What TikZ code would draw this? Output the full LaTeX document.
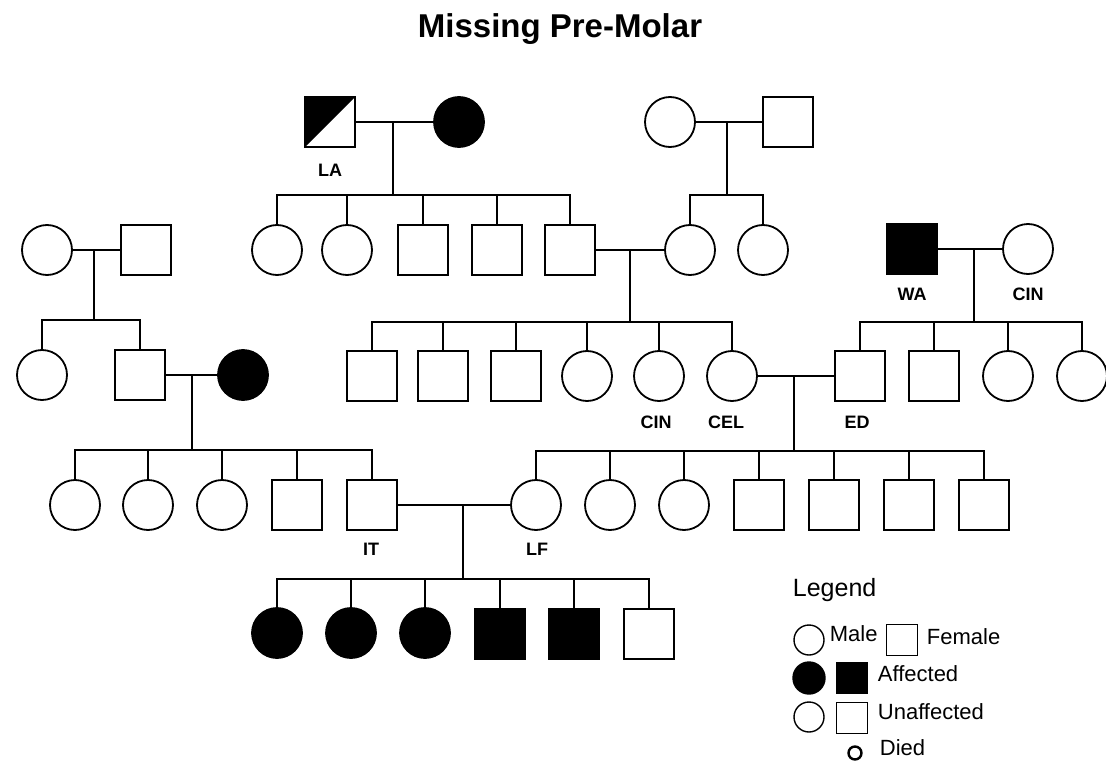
\documentclass[tikz,border=0pt]{standalone}
\usepackage{fontspec}
\setmainfont{Liberation Sans}
\begin{document}
\begin{tikzpicture}[x=1pt,y=-1pt,line width=1.8pt,
  sq/.style={draw,rectangle,minimum size=50pt,inner sep=0pt,fill=white},
  ci/.style={draw,circle,minimum size=50pt,inner sep=0pt,fill=white},
  aff/.style={fill=black},
  lab/.style={font=\bfseries\fontsize{18}{18}\selectfont,inner sep=0pt},
  leg/.style={font=\fontsize{22}{22}\selectfont,inner sep=0pt,anchor=west}]
\useasboundingbox (0,0) rectangle (1106,765);
\node[font=\bfseries\fontsize{33}{33}\selectfont,anchor=base,inner sep=0pt] (title) at (560,38) {Missing Pre-Molar};

% Generation I
\node[sq] (la) at (330,122) {};
\fill (la.north west) -- (la.north east) -- (la.south west) -- cycle;
\node[sq,fill=none] at (330,122) {};
\node[ci,aff] (lw) at (459,122) {};
\node[ci] (rw) at (670,122) {};
\node[sq] (rh) at (788,122) {};
\node[lab] (tla) at (330,170) {LA};

% Generation II
\node[ci] (g2a) at (47,250) {};
\node[sq] (g2b) at (146,250) {};
\node[ci] (c1) at (277,250) {};
\node[ci] (c2) at (347,250) {};
\node[sq] (c3) at (423,250) {};
\node[sq] (c4) at (497,250) {};
\node[sq] (c5) at (570,250) {};
\node[ci] (d1) at (690,250) {};
\node[ci] (d2) at (763,250) {};
\node[sq,aff] (wa) at (912,249) {};
\node[ci] (cin1) at (1028,249) {};
\node[lab] (twa) at (912,294) {WA};
\node[lab] (tcin1) at (1028,294) {CIN};

% Generation III
\node[ci] (e1) at (42,375) {};
\node[sq] (e2) at (140,375) {};
\node[ci,aff] (e3) at (243,375) {};
\node[sq] (f1) at (372,376) {};
\node[sq] (f2) at (443,376) {};
\node[sq] (f3) at (516,376) {};
\node[ci] (f4) at (587,376) {};
\node[ci] (f5) at (659,376) {};
\node[ci] (f6) at (732,376) {};
\node[sq] (h1) at (860,376) {};
\node[sq] (h2) at (934,376) {};
\node[ci] (h3) at (1008,376) {};
\node[ci] (h4) at (1082,376) {};
\node[lab] (tcin2) at (656,422) {CIN};
\node[lab] (tcel) at (726,422) {CEL};
\node[lab] (ted) at (857,422) {ED};

% Generation IV
\node[ci] (i1) at (75,505) {};
\node[ci] (i2) at (148,505) {};
\node[ci] (i3) at (222,505) {};
\node[sq] (i4) at (297,505) {};
\node[sq] (i5) at (372,505) {};
\node[ci] (j1) at (536,505) {};
\node[ci] (j2) at (610,505) {};
\node[ci] (j3) at (684,505) {};
\node[sq] (j4) at (759,505) {};
\node[sq] (j5) at (834,505) {};
\node[sq] (j6) at (909,505) {};
\node[sq] (j7) at (984,505) {};
\node[lab] (tit) at (371,549) {IT};
\node[lab] (tlf) at (537,549) {LF};

% Generation V
\node[ci,aff] (k1) at (277,633) {};
\node[ci,aff] (k2) at (351,633) {};
\node[ci,aff] (k3) at (425,633) {};
\node[sq,aff] (k4) at (500,634) {};
\node[sq,aff] (k5) at (574,634) {};
\node[sq] (k6) at (649,634) {};

% couple lines and descent lines
\coordinate (m1) at (393,122); \coordinate (s1) at (393,195);
\draw (la.east) -- (lw.west); \draw (m1) -- (s1);
\foreach \c in {c1,c2,c3,c4,c5} \draw (\c.north) |- (s1);

\coordinate (m2) at (727,122); \coordinate (s2) at (727,195);
\draw (rw.east) -- (rh.west); \draw (m2) -- (s2);
\foreach \c in {d1,d2} \draw (\c.north) |- (s2);

\coordinate (m3) at (94,250); \coordinate (s3) at (94,320);
\draw (g2a.east) -- (g2b.west); \draw (m3) -- (s3);
\foreach \c in {e1,e2} \draw (\c.north) |- (s3);

\coordinate (m4) at (630,250); \coordinate (s4) at (630,322);
\draw (c5.east) -- (d1.west); \draw (m4) -- (s4);
\foreach \c in {f1,f2,f3,f4,f5,f6} \draw (\c.north) |- (s4);

\coordinate (m5) at (974,249); \coordinate (s5) at (974,322);
\draw (wa.east) -- (cin1.west); \draw (m5) -- (s5);
\foreach \c in {h1,h2,h3,h4} \draw (\c.north) |- (s5);

\coordinate (m6) at (192,375); \coordinate (s6) at (192,450);
\draw (e2.east) -- (e3.west); \draw (m6) -- (s6);
\foreach \c in {i1,i2,i3,i4,i5} \draw (\c.north) |- (s6);

\coordinate (m7) at (794,376); \coordinate (s7) at (794,451);
\draw (f6.east) -- (h1.west); \draw (m7) -- (s7);
\foreach \c in {j1,j2,j3,j4,j5,j6,j7} \draw (\c.north) |- (s7);

\coordinate (m8) at (463,505); \coordinate (s8) at (463,579);
\draw (i5.east) -- (j1.west); \draw (m8) -- (s8);
\foreach \c in {k1,k2,k3,k4,k5,k6} \draw (\c.north) |- (s8);

% Legend
\node[font=\fontsize{25}{25}\selectfont,inner sep=0pt,anchor=west] (lg) at (792,590) {Legend};
\begin{scope}[line width=1.4pt]
\node[draw,circle,minimum size=30pt,inner sep=0pt] (lm) at (809,640) {};
\node[draw,rectangle,minimum size=31pt,inner sep=0pt] (lf) at (902,640) {};
\node[draw,circle,fill=black,minimum size=32pt,inner sep=0pt] (lac) at (809,678) {};
\node[draw,rectangle,fill=black,minimum size=31pt,inner sep=0pt] (las) at (852,678) {};
\node[draw,circle,minimum size=30pt,inner sep=0pt] (luc) at (809,717) {};
\node[draw,rectangle,minimum size=31pt,inner sep=0pt] (lus) at (852,718) {};
\node[draw,circle,line width=2.4pt,minimum size=13pt,inner sep=0pt] (ld) at (855,753) {};
\end{scope}
\node[leg] (tm) at (829,634) {Male};
\node[leg] (tf) at (926,637) {Female};
\node[leg] (ta) at (877,674) {Affected};
\node[leg] (tu) at (877,712) {Unaffected};
\node[leg] (td) at (879,748) {Died};
\end{tikzpicture}
\end{document}
